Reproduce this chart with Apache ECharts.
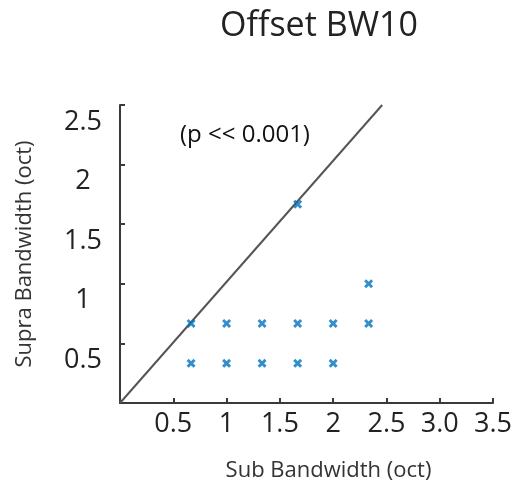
<!DOCTYPE html>
<html>
<head>
<meta charset="utf-8">
<script src="https://cdn.jsdelivr.net/npm/echarts@6/dist/echarts.min.js"></script>
<style>html,body{margin:0;padding:0;background:#fff}#c{width:515px;height:487px}</style>
</head>
<body>
<div id="c"></div>
<script>
const subBandwidth = [0.667, 1, 1.333, 1.667, 2, 0.667, 1, 1.333, 1.667, 2, 2.333, 2.333, 1.667];
const supraBandwidth = [0.333, 0.333, 0.333, 0.333, 0.333, 0.667, 0.667, 0.667, 0.667, 0.667, 0.667, 1.0, 1.667];
const diagonalX = [0, 2.46];
const diagonalY = [0, 2.5];
const xTickLabels = {0.5: '0.5', 1: '1', 1.5: '1.5', 2: '2', 2.5: '2.5', 3: '3.0', 3.5: '3.5'};
const yTickLabels = {0.5: '0.5', 1: '1', 1.5: '1.5', 2: '2', 2.5: '2.5'};

const FONT = 'Open Sans';
const xMark = 'path://M0,2.3L2.3,0L5,2.7L7.7,0L10,2.3L7.3,5L10,7.7L7.7,10L5,7.3L2.3,10L0,7.7L2.7,5Z';

const chart = echarts.init(document.getElementById('c'));
chart.setOption({
  animation: false,
  title: {
    text: 'Offset BW10', left: 314, top: 4, textAlign: 'center',
    textStyle: {fontFamily: FONT, fontSize: 34, fontWeight: 'normal', color: '#222'}
  },
  grid: {left: 120, right: 20, top: 105, bottom: 82},
  xAxis: {
    type: 'value', min: 0, max: 3.5, interval: 0.5,
    name: 'Sub Bandwidth (oct)', nameLocation: 'middle', nameGap: 57,
    nameTextStyle: {fontFamily: FONT, fontSize: 22, color: '#333', padding: [0, 0, 0, 44]},
    axisLine: {show: true, lineStyle: {color: '#3a3a3a', width: 2}},
    axisTick: {show: true, inside: true, length: 5, lineStyle: {color: '#3a3a3a', width: 2}},
    splitLine: {show: false},
    axisLabel: {
      margin: 8, fontFamily: FONT, fontSize: 27, color: '#222',
      formatter: v => xTickLabels[v] || ''
    }
  },
  yAxis: {
    type: 'value', min: 0, max: 2.5, interval: 0.5,
    name: 'Supra Bandwidth (oct)', nameLocation: 'middle', nameGap: 84,
    nameTextStyle: {fontFamily: FONT, fontSize: 22, color: '#333'},
    axisLine: {show: true, lineStyle: {color: '#3a3a3a', width: 2}},
    axisTick: {show: true, inside: true, length: 5, lineStyle: {color: '#3a3a3a', width: 2}},
    splitLine: {show: false},
    axisLabel: {
      margin: 37, align: 'center', verticalAlign: 'top', lineHeight: 34,
      fontFamily: FONT, fontSize: 27, color: '#222',
      formatter: v => yTickLabels[v] || ''
    }
  },
  graphic: [{
    type: 'text', left: 180, top: 123,
    style: {text: '(p << 0.001)', fontFamily: FONT, fontSize: 24, fill: '#111'}
  }],
  series: [
    {
      type: 'line', data: diagonalX.map((x, i) => [x, diagonalY[i]]),
      symbol: 'none', lineStyle: {color: '#555', width: 2}, z: 1
    },
    {
      type: 'scatter', data: subBandwidth.map((x, i) => [x, supraBandwidth[i]]),
      symbol: xMark, symbolSize: 9, itemStyle: {color: '#0072BD'}, z: 3
    }
  ]
});
</script>
</body>
</html>
